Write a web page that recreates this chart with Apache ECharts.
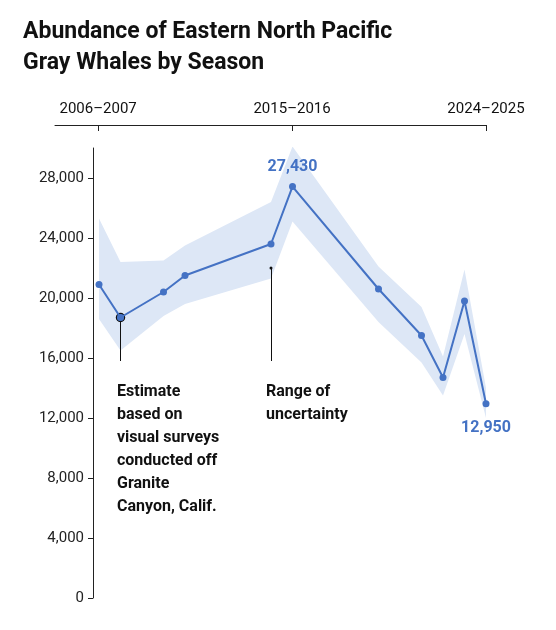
<!DOCTYPE html>
<html lang="en">
<head>
<meta charset="UTF-8" />
<title>Gray Whales</title>
<script src="https://cdn.jsdelivr.net/npm/echarts@6/dist/echarts.min.js"></script>
<style>body{margin:0;background:#fff}</style>
</head>
<body>
<div id="main" style="width:556px;height:630px"></div>
<script type="text/javascript">
// season start years and estimates
const years = [2006, 2007, 2009, 2010, 2014, 2015, 2019, 2021, 2022, 2023, 2024];
const estimates = [20900, 18700, 20400, 21500, 23600, 27430, 20600, 17500, 14700, 19800, 12950];
const lower = [18600, 16500, 18800, 19600, 21300, 25100, 18400, 15700, 13500, 17600, 12000];
const upper = [25300, 22400, 22500, 23500, 26400, 30100, 22100, 19400, 16100, 21900, 14000];
const topTicks = [2006, 2015, 2024];
const topLabels = { 2006: "2006\u20132007", 2015: "2015\u20132016", 2024: "2024\u20132025" };

const blue = "#4472c4";
const font = "Roboto, 'Liberation Sans', sans-serif";
const chart = echarts.init(document.getElementById("main"));

chart.setOption({
  animation: false,
  textStyle: { fontFamily: font },
  title: {
    text: "Abundance of Eastern North Pacific\nGray Whales by Season",
    left: 18, top: 12,
    textStyle: { fontSize: 23, fontWeight: "bold", color: "#111", lineHeight: 31, fontFamily: font }
  },
  grid: [
    { left: 99, right: 70, top: 148, bottom: 32 },
    { left: 55, right: 70, top: 125, height: 0 }
  ],
  xAxis: [
    { type: "value", gridIndex: 0, min: 2006, max: 2024, show: false },
    {
      type: "value", gridIndex: 1, position: "top", min: 2004, max: 2024,
      axisLine: { lineStyle: { color: "#222" } },
      axisTick: { inside: true, length: 6, lineStyle: { color: "#222" }, customValues: topTicks },
      axisLabel: { customValues: topTicks, formatter: v => topLabels[v] || "", color: "#111", fontSize: 15, margin: 8 },
      splitLine: { show: false }
    }
  ],
  yAxis: [
    {
      type: "value", gridIndex: 0, min: 0, max: 30000, interval: 4000, offset: 6,
      axisLine: { show: true, lineStyle: { color: "#222" } },
      axisTick: { show: true, length: 5, lineStyle: { color: "#222" } },
      axisLabel: { color: "#222", fontSize: 15, margin: 9, showMaxLabel: false,
        formatter: v => v.toLocaleString("en-US") },
      splitLine: { show: false }
    },
    { type: "value", gridIndex: 1, show: false }
  ],
  series: [
    {
      type: "line", data: years.map((y, i) => [y, upper[i]]),
      lineStyle: { opacity: 0 }, symbol: "none", silent: true,
      areaStyle: { color: "#dde7f6", opacity: 1 }
    },
    {
      type: "line", data: years.map((y, i) => [y, lower[i]]),
      lineStyle: { opacity: 0 }, symbol: "none", silent: true,
      areaStyle: { color: "#ffffff", opacity: 1 }
    },
    {
      type: "line", data: years.map((y, i) => [y, estimates[i]]), z: 5,
      lineStyle: { color: blue, width: 2 },
      symbol: "circle", symbolSize: 7,
      itemStyle: { color: blue },
      label: {
        show: true, color: blue, fontWeight: "bold", fontSize: 16,
        formatter: p => (p.dataIndex === 5 || p.dataIndex === 10) ? p.value[1].toLocaleString("en-US") : "",
        position: "top", distance: 8
      },
      labelLayout: p => p.dataIndex === 10 ? { dy: 44 } : {},
      markPoint: {
        symbol: "circle", symbolSize: 8,
        itemStyle: { color: blue, borderColor: "#111", borderWidth: 1.5 },
        label: { show: false },
        data: [{ coord: [2007, 18700] }]
      },
      markLine: {
        silent: true, symbol: ["none", "none"],
        lineStyle: { color: "#111", width: 1, type: "solid" }, label: { show: false },
        data: [
          [{ coord: [2007, 18400] }, { coord: [2007, 15800] }],
          [{ coord: [2014, 22000], symbol: "circle", symbolSize: 3 }, { coord: [2014, 15800] }]
        ]
      }
    }
  ],
  graphic: [
    { type: "text", left: 117, top: 380, z: 100,
      style: { text: "Estimate\nbased on\nvisual surveys\nconducted off\nGranite\nCanyon, Calif.",
        font: "bold 16px " + font, fill: "#111", lineHeight: 23 } },
    { type: "text", left: 266, top: 380, z: 100,
      style: { text: "Range of\nuncertainty", font: "bold 16px " + font, fill: "#111", lineHeight: 23 } }
  ]
});
</script>
</body>
</html>
